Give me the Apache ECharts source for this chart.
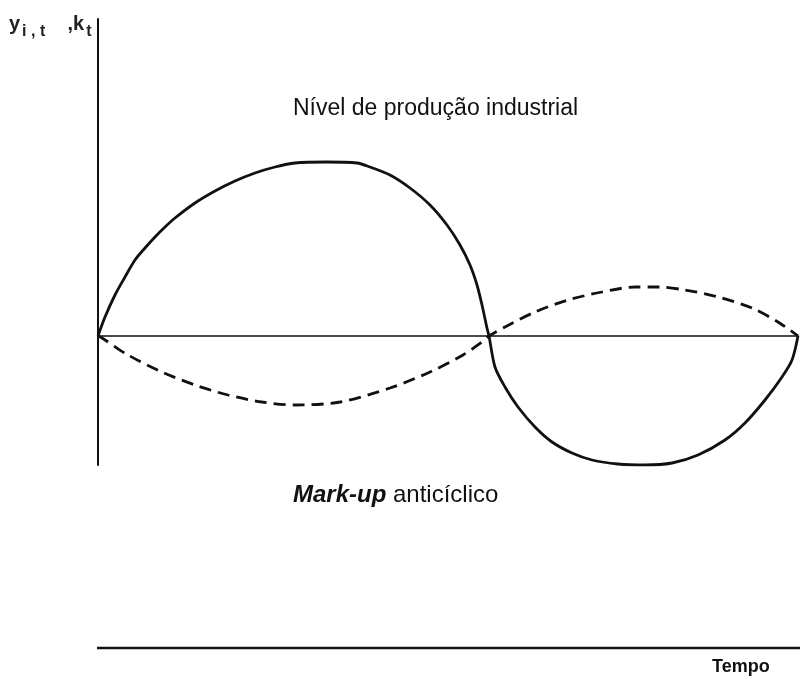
<!DOCTYPE html>
<html>
<head>
<meta charset="utf-8">
<script src="https://cdn.jsdelivr.net/npm/echarts@6/dist/echarts.min.js"></script>
<style>
  html, body { margin: 0; padding: 0; background: #fff; }
  #chart { width: 800px; height: 679px; }
</style>
</head>
<body>
<div id="chart"></div>
<script>
// curva do nível de produção industrial (tempo, nível)
const producao = [
    [0, 0], [7, 19], [17, 41], [27, 59], [37, 76], [47, 88], [57, 99], [67, 109],
    [77, 118], [97, 133], [117, 145], [137, 155], [157, 163], [177, 169], [197, 173],
    [228, 174], [259, 173], [272, 169], [292, 161], [312, 148], [332, 131], [349, 111],
    [362, 91], [372, 71], [379, 51], [384, 31], [389, 8], [391, 0], [397, -31],
    [407, -51], [420, -71], [437, -91], [454, -106], [474, -117], [494, -124],
    [520, -128], [547, -129], [574, -127], [600, -119], [627, -104], [647, -87],
    [667, -64], [684, -41], [694, -24], [700, 0]
]

// curva do mark-up anticíclico
const markup = [
    [0, 0], [4, -2], [30, -19], [64, -36], [97, -49], [130, -59], [164, -66],
    [197, -69], [242, -66], [292, -52], [332, -36], [365, -19], [384, -6],
    [391, 0], [407, 9], [437, 24], [470, 36], [504, 44], [537, 49], [560, 49],
    [587, 46], [620, 39], [654, 28], [680, 14], [700, 0]
]

const rotulos = {
    producao: 'Nível de produção industrial',
    markupItalico: 'Mark-up',
    markupResto: ' anticíclico',
    tempo: 'Tempo'
}

const fonte = '"Liberation Sans", "DejaVu Sans", sans-serif'

const chart = echarts.init(document.getElementById('chart'))

const option = {
    backgroundColor: '#fff',
    animation: false,
    grid: { left: 98, width: 700, top: 19, height: 446 },
    xAxis: {
        type: 'value',
        min: 0,
        max: 700,
        axisLine: { onZero: true, lineStyle: { color: '#111', width: 1.6 } },
        axisTick: { show: false },
        axisLabel: { show: false },
        splitLine: { show: false }
    },
    yAxis: {
        type: 'value',
        min: -129,
        max: 317,
        axisLine: { show: true, lineStyle: { color: '#111', width: 2 } },
        axisTick: { show: false },
        axisLabel: { show: false },
        splitLine: { show: false }
    },
    series: [
        {
            name: 'producao',
            type: 'line',
            data: producao,
            smooth: 0.3,
            showSymbol: false,
            lineStyle: { color: '#111', width: 2.8 }
        },
        {
            name: 'markup',
            type: 'line',
            data: markup,
            smooth: 0.3,
            showSymbol: false,
            lineStyle: { color: '#111', width: 2.8, type: [12, 7] }
        }
    ],
    graphic: [
        {
            type: 'text',
            left: 9,
            top: 14,
            style: {
                text: '{a|y}{s|i , t}{a|    ,k}{s|t}',
                rich: {
                    a: { fontSize: 20, fontFamily: fonte, fontWeight: 'bold', fill: '#222', lineHeight: 24 },
                    s: { fontSize: 16, fontFamily: fonte, fontWeight: 'bold', fill: '#222', padding: [16, 0, 0, 2] }
                }
            }
        },
        {
            type: 'text',
            left: 293,
            top: 97,
            style: {
                text: rotulos.producao,
                font: '23px ' + fonte,
                fill: '#111'
            }
        },
        {
            type: 'text',
            left: 293,
            top: 483,
            style: {
                text: '{i|' + rotulos.markupItalico + '}{n|' + rotulos.markupResto + '}',
                rich: {
                    i: { fontSize: 24, fontStyle: 'italic', fontWeight: 'bold', fontFamily: fonte, fill: '#111' },
                    n: { fontSize: 24, fontFamily: fonte, fill: '#111' }
                }
            }
        },
        {
            type: 'line',
            shape: { x1: 97, y1: 648, x2: 800, y2: 648 },
            style: { stroke: '#111', lineWidth: 2.5 }
        },
        {
            type: 'text',
            left: 712,
            top: 658,
            style: {
                text: rotulos.tempo,
                font: 'bold 18px ' + fonte,
                fill: '#111'
            }
        }
    ]
}

chart.setOption(option)

window.addEventListener('resize', () => {
    chart.resize()
})
</script>
</body>
</html>
